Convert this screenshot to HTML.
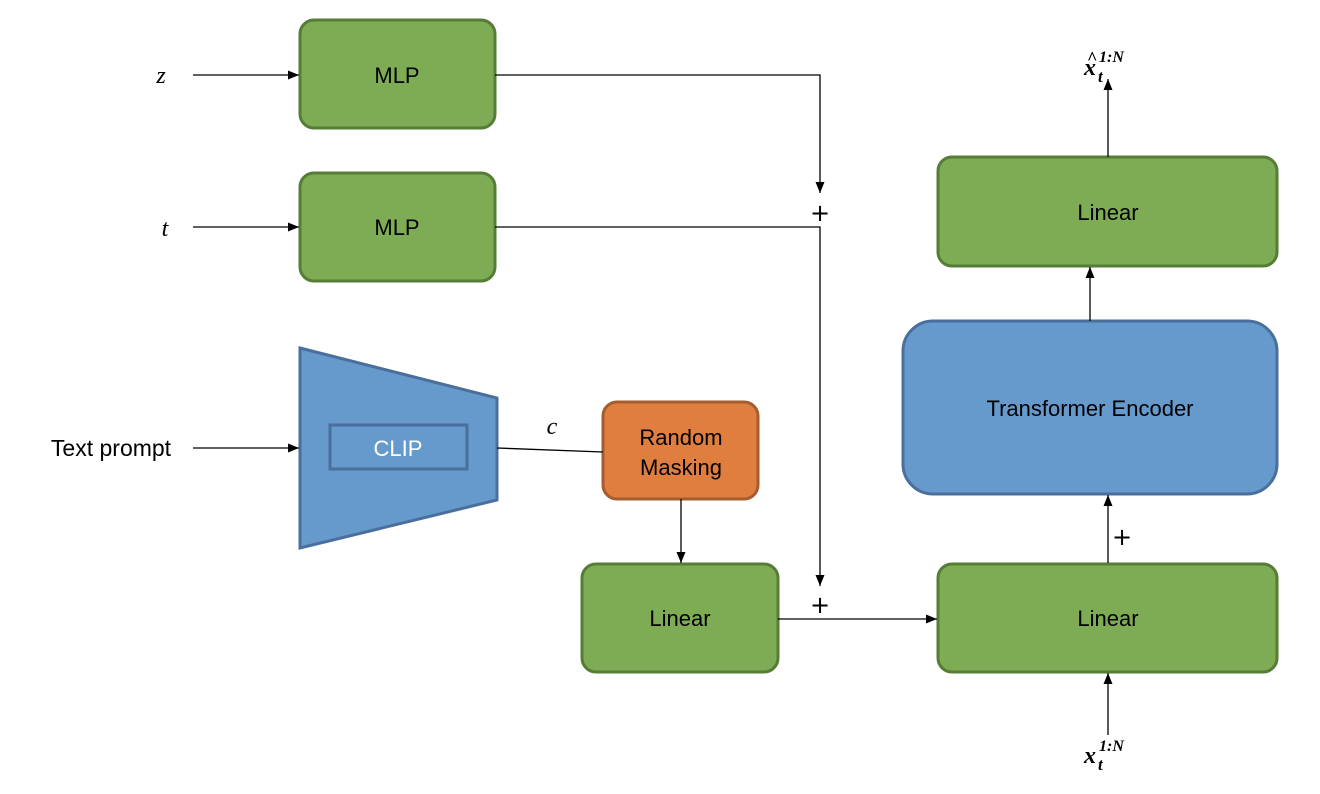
<!DOCTYPE html>
<html><head><meta charset="utf-8"><style>body{margin:0;background:#fff}svg{display:block}</style></head><body>
<svg width="1320" height="794" viewBox="0 0 1320 794" xmlns="http://www.w3.org/2000/svg" font-family="Liberation Sans, sans-serif">
<defs><marker id="a" markerWidth="12" markerHeight="12" refX="11" refY="6" orient="auto" markerUnits="userSpaceOnUse"><path d="M0,1.5 L11,6 L0,10.5 z" fill="#000"/></marker></defs>
<g stroke="#567d36" stroke-width="3" fill="#7eac55">
<rect x="300" y="20" width="195" height="108" rx="14"/>
<rect x="300" y="173" width="195" height="108" rx="14"/>
<rect x="582" y="564" width="196" height="108" rx="14"/>
<rect x="938" y="564" width="339" height="108" rx="14"/>
<rect x="938" y="157" width="339" height="109" rx="14"/>
</g>
<rect x="903" y="321" width="374" height="173" rx="30" fill="#6699cc" stroke="#4a6f9c" stroke-width="3"/>
<polygon points="300,348 497,398 497,500 300,548" fill="#6699cc" stroke="#4a6f9c" stroke-width="3"/>
<rect x="330" y="425" width="137" height="44" fill="#6699cc" stroke="#4a6f9c" stroke-width="3"/>
<rect x="603" y="402" width="155" height="97" rx="14" fill="#e07e40" stroke="#a65d2e" stroke-width="3"/>
<g stroke="#000" stroke-width="1.3" fill="none">
<line x1="193" y1="75" x2="299" y2="75" marker-end="url(#a)"/>
<line x1="193" y1="227" x2="299" y2="227" marker-end="url(#a)"/>
<line x1="193" y1="448" x2="299" y2="448" marker-end="url(#a)"/>
<polyline points="495,75 820,75 820,193" marker-end="url(#a)"/>
<polyline points="495,227 820,227 820,586" marker-end="url(#a)"/>
<line x1="778" y1="619" x2="937" y2="619" marker-end="url(#a)"/>
<line x1="497" y1="448" x2="603" y2="452"/>
<line x1="681" y1="499" x2="681" y2="563" marker-end="url(#a)"/>
<line x1="1108" y1="735" x2="1108" y2="673" marker-end="url(#a)"/>
<line x1="1108" y1="563" x2="1108" y2="495" marker-end="url(#a)"/>
<line x1="1090" y1="321" x2="1090" y2="267" marker-end="url(#a)"/>
<line x1="1108" y1="157" x2="1108" y2="79" marker-end="url(#a)"/>
</g>
<g font-size="22" text-anchor="middle" fill="#000">
<text x="397" y="83">MLP</text>
<text x="397" y="235">MLP</text>
<text x="680" y="626">Linear</text>
<text x="1108" y="626">Linear</text>
<text x="1108" y="220">Linear</text>
<text x="1090" y="416">Transformer Encoder</text>
<text x="681" y="445">Random</text>
<text x="681" y="475">Masking</text>
<text x="398" y="456" fill="#fff">CLIP</text>
<text x="111" y="456" font-size="23">Text prompt</text>
</g>
<g font-family="Liberation Serif, serif" font-style="italic" font-size="24" text-anchor="middle">
<text x="161" y="83">z</text>
<text x="165" y="236">t</text>
<text x="552" y="434">c</text>
</g>
<g font-family="DejaVu Sans, sans-serif" font-size="24" text-anchor="middle">
<text x="820" y="221">+</text>
<text x="820" y="613">+</text>
<text x="1122" y="545">+</text>
</g>
<g font-family="Liberation Serif, serif" font-style="italic" font-weight="bold">
<text x="1084" y="763" font-size="24">x</text><text x="1098" y="770" font-size="17">t</text><text x="1099" y="751" font-size="16">1:N</text>
<text x="1084" y="75" font-size="24">x</text><text x="1087" y="64" font-size="18" font-style="normal">^</text><text x="1098" y="82" font-size="17">t</text><text x="1099" y="62" font-size="16">1:N</text>
</g>
</svg>
</body></html>
